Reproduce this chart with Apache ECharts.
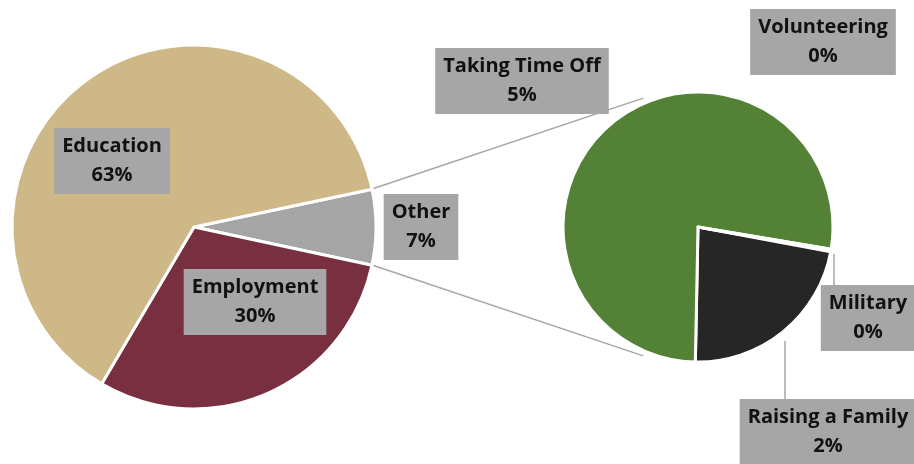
<!DOCTYPE html>
<html><head><meta charset="utf-8">
<script src="https://cdn.jsdelivr.net/npm/echarts@6/dist/echarts.min.js"></script>
<style>html,body{margin:0;padding:0;background:#fff}#c{width:914px;height:464px}</style>
</head><body><div id="c"></div>
<script>
// ---- data ----
const mainCategories = ['Other', 'Employment', 'Education'];
const mainValues = [6.7, 30.1, 63.2];
const otherCategories = ['Military', 'Raising a Family', 'Taking Time Off', 'Volunteering'];
const otherValues = [0.01, 1.5, 5.18, 0.01];

// ---- styling / layout ----
const mainColors = ['#A5A5A5', '#782F40', '#CEB888'];
const otherColors = ['#A5A5A5', '#262626', '#538135', '#A5A5A5'];
const MAIN = {cx: 194, cy: 227, r: 182, start: 12};
const SUB = {cx: 698, cy: 227, r: 135, start: -10};
const mainLabelPos = [[421, 227], [255, 302], [112, 161]];
const subLabelPos = [[868, 318], [828, 432], [522, 81], [823, 42]];
const subLabelLines = {
  0: [[834, 254], [834, 270], [834, 285]],
  1: [[785, 341], [785, 370], [785, 401]]
};

const total = mainValues.reduce((a, b) => a + b, 0);
const pct = v => Math.round(v / total * 100) + '%';

const labelStyle = {
  show: true,
  position: 'outside',
  fontFamily: 'Open Sans',
  fontWeight: 'bold',
  fontSize: 20,
  lineHeight: 29,
  color: '#111',
  backgroundColor: '#A6A6A6',
  padding: [7, 8, 1, 8],
  align: 'center'
};

const chart = echarts.init(document.getElementById('c'), null, {renderer: 'canvas'});

// connector lines between Other slice and secondary pie
const rad = d => d * Math.PI / 180;
const half = mainValues[0] / total * 180;
const mp1 = [MAIN.cx + MAIN.r * Math.cos(rad(half)), MAIN.cy - MAIN.r * Math.sin(rad(half))];
const mp2 = [MAIN.cx + MAIN.r * Math.cos(rad(half)), MAIN.cy + MAIN.r * Math.sin(rad(half))];
const ta = 113;
const sp1 = [SUB.cx + (SUB.r + 5) * Math.cos(rad(ta)), SUB.cy - (SUB.r + 5) * Math.sin(rad(ta))];
const sp2 = [SUB.cx + (SUB.r + 5) * Math.cos(rad(ta)), SUB.cy + (SUB.r + 5) * Math.sin(rad(ta))];

chart.setOption({
  animation: false,
  backgroundColor: '#fff',
  graphic: [
    {type: 'line', z: 0, shape: {x1: mp1[0], y1: mp1[1], x2: sp1[0], y2: sp1[1]}, style: {stroke: '#A6A6A6', lineWidth: 1.5}},
    {type: 'line', z: 0, shape: {x1: mp2[0], y1: mp2[1], x2: sp2[0], y2: sp2[1]}, style: {stroke: '#A6A6A6', lineWidth: 1.5}}
  ],
  series: [
    {
      type: 'pie',
      center: [MAIN.cx, MAIN.cy],
      radius: [0, MAIN.r],
      startAngle: MAIN.start,
      clockwise: true,
      avoidLabelOverlap: false,
      itemStyle: {borderColor: '#fff', borderWidth: 3},
      label: Object.assign({}, labelStyle, {formatter: p => p.name + '\n' + pct(p.value)}),
      labelLine: {show: false},
      labelLayout: p => ({x: mainLabelPos[p.dataIndex][0], y: mainLabelPos[p.dataIndex][1], align: 'center', verticalAlign: 'middle'}),
      emphasis: {disabled: true},
      data: mainCategories.map((n, i) => ({name: n, value: mainValues[i], itemStyle: {color: mainColors[i]}}))
    },
    {
      type: 'pie',
      center: [SUB.cx, SUB.cy],
      radius: [0, SUB.r],
      startAngle: SUB.start,
      clockwise: true,
      avoidLabelOverlap: false,
      minAngle: 0,
      itemStyle: {borderColor: '#fff', borderWidth: 3},
      label: Object.assign({}, labelStyle, {formatter: p => p.name + '\n' + pct(p.value)}),
      labelLine: {show: false, lineStyle: {color: '#A6A6A6', width: 1.5}},
      labelLayout: p => {
        const o = {x: subLabelPos[p.dataIndex][0], y: subLabelPos[p.dataIndex][1], align: 'center', verticalAlign: 'middle'};
        if (subLabelLines[p.dataIndex]) o.labelLinePoints = subLabelLines[p.dataIndex];
        return o;
      },
      emphasis: {disabled: true},
      data: otherCategories.map((n, i) => ({
        name: n, value: otherValues[i], itemStyle: {color: otherColors[i]},
        labelLine: {show: !!subLabelLines[i]}
      }))
    }
  ]
});
</script></body></html>
